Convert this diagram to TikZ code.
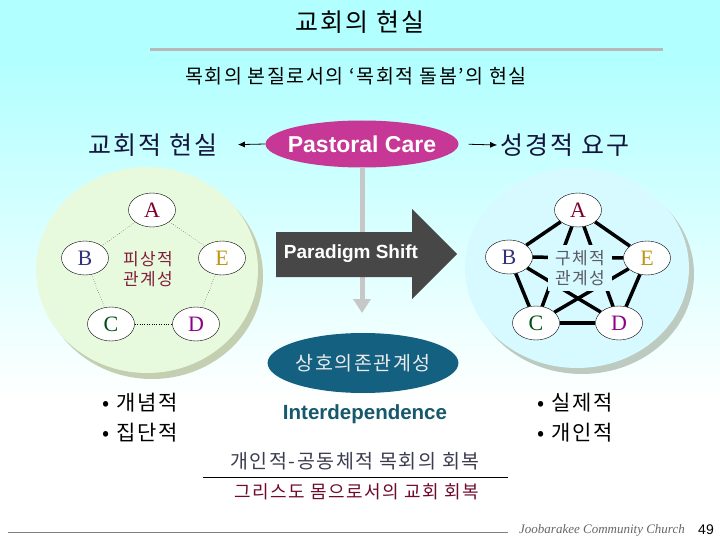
\documentclass[tikz,border=0pt]{standalone}
\usepackage{fontspec}
\setmainfont{Noto Sans CJK KR}[LetterSpace=8]
\newfontfamily\romanfont{Liberation Serif}
\newfontfamily\headfont{Liberation Sans}
\usepackage{tikz}
\usetikzlibrary{shapes.geometric,arrows.meta}

\definecolor{skycyan}{RGB}{178,255,255}
\definecolor{palegreen}{RGB}{232,250,222}
\definecolor{paleblue}{RGB}{214,250,255}
\definecolor{greenshadow}{RGB}{196,206,176}
\definecolor{blueshadow}{RGB}{188,202,192}
\definecolor{caremagenta}{RGB}{198,55,150}
\definecolor{shiftgray}{RGB}{71,71,71}
\definecolor{deepteal}{RGB}{20,96,128}
\definecolor{inkteal}{RGB}{22,88,108}
\definecolor{inknavy}{RGB}{20,20,60}
\definecolor{inkmaroon}{RGB}{128,30,60}
\definecolor{inkwine}{RGB}{112,10,45}
\definecolor{inkslate}{RGB}{60,60,80}
\definecolor{inkgray}{RGB}{90,90,100}
\definecolor{letterA}{RGB}{128,0,40}
\definecolor{letterB}{RGB}{50,50,120}
\definecolor{letterC}{RGB}{0,80,20}
\definecolor{letterD}{RGB}{140,0,140}
\definecolor{letterE}{RGB}{190,150,20}

\newcommand\fsz[2]{\fontsize{#1}{#2}\selectfont}

\begin{document}
\begin{tikzpicture}[x=1pt, y=-1pt,
        letter/.style={ellipse, draw, thin, fill=white, minimum width=47pt, minimum height=34pt, inner sep=0pt, font=\romanfont\fsz{22}{22}},
        loose/.style={dotted, thin},
        firm/.style={line width=3.5pt},
        heading/.style={text=inknavy, font=\fsz{25}{30}},
        bullets/.style={align=left, font=\fsz{21}{30}},
        pointer/.style={-{Latex[length=7pt,width=6pt]}, thick}]
        \useasboundingbox (0,0) rectangle (720,540);
        \fill[white] (0,0) rectangle (720,540);
        \fill[skycyan] (0,0) rectangle (720,60);
        \shade[top color=skycyan, bottom color=white] (0,60) rectangle (720,400);

        \node[font=\fsz{25}{30}] (title) at (360,22) {교회의 현실};
        \draw[line width=3pt, draw=black!28] (150,50) -- (663,50);
        \node[font=\fsz{19.5}{22}] (subtitle) at (356,76) {목회의 본질로서의 ‘목회적 돌봄’의 현실};

        \fill[greenshadow] (152,276) ellipse [x radius=111, y radius=103];
        \fill[palegreen] (147,270) ellipse [x radius=111, y radius=103];
        \fill[blueshadow] (582,274) ellipse [x radius=112, y radius=100];
        \fill[paleblue] (577,268) ellipse [x radius=112, y radius=100];

        \node[minimum width=193pt, minimum height=47pt, inner sep=0pt, text=white, font=\headfont\bfseries\fsz{23}{23},
            path picture={\fill[caremagenta] (path picture bounding box.center) ellipse [x radius=96.5, y radius=23.5];}] (care) at (362,144) {Pastoral Care};
        \node[heading] (church) at (153,145) {교회적 현실};
        \node[heading] (bible) at (565,145) {성경적 요구};
        \draw[pointer, shorten >=17pt] (care.west) -- (church.east);
        \draw[pointer, shorten <=10pt] (care.east) -- (bible.west);

        \coordinate (drop) at (362,313);
        \draw[line width=5pt, draw=black!22, -{Triangle[length=14pt,width=17pt]}] (care.south) -- (drop);
        \fill[shiftgray] (276,232) -- (412,232) -- (412,209) -- (457,254) -- (412,299) -- (412,277) -- (276,277) -- cycle;
        \node[text=white, font=\headfont\bfseries\fsz{19}{19}] (shift) at (351,254) {Paradigm Shift};

        \node[letter, text=letterA] (la) at (152,210) {A};
        \node[letter, text=letterB] (lb) at (85,258) {B};
        \node[letter, text=letterE] (le) at (222,258) {E};
        \node[letter, text=letterC] (lc) at (111,324) {C};
        \node[letter, text=letterD] (ld) at (196,324) {D};
        \draw[loose] (la) -- (lb);
        \draw[loose] (la) -- (le);
        \draw[loose] (lb) -- (lc);
        \draw[loose] (le) -- (ld);
        \draw[loose] (lc) -- (ld);
        \node[align=center, text=inkmaroon, font=\fsz{17}{20}] (lmid) at (148,269) {피상적\\관계성};

        \node[letter, text=letterA] (ra) at (578,210) {A};
        \node[letter, text=letterB] (rb) at (509,257) {B};
        \node[letter, text=letterE] (re) at (647,258) {E};
        \node[letter, text=letterC] (rc) at (536,323) {C};
        \node[letter, text=letterD] (rd) at (619,323) {D};
        \draw[firm] (ra) -- (rb);
        \draw[firm] (ra) -- (re);
        \draw[firm] (rb) -- (rc);
        \draw[firm] (re) -- (rd);
        \draw[firm] (rc) -- (rd);
        \draw[firm] (ra) -- (rc);
        \draw[firm] (ra) -- (rd);
        \draw[firm] (rb) -- (re);
        \draw[firm] (rb) -- (rd);
        \draw[firm] (re) -- (rc);
        \node[align=center, fill=paleblue, inner xsep=7pt, inner ysep=5pt, text=inkgray, font=\fsz{17}{20}] (rmid) at (580,268) {구체적\\관계성};

        \node[ellipse, fill=deepteal, inner sep=0pt, minimum width=185pt, minimum height=60pt, text=black!8, font=\fsz{19.5}{19.5}] (inter) at (363,363) {상호의존관계성};
        \node[text=inkteal, font=\headfont\bfseries\fsz{20.5}{20.5}] (interen) at (365,414) {Interdependence};
        \node[bullets] (leftlist) at (140,418) {• 개념적\\• 집단적};
        \node[bullets] (rightlist) at (575,418) {• 실제적\\• 개인적};

        \node[text=inkslate, font=\fsz{19.5}{19.5}] (pastoral) at (355,461) {개인적-공동체적 목회의 회복};
        \draw[thin] (203,477) -- (508,477);
        \node[text=inkwine, font=\fsz{18}{18}] (body) at (357,492) {그리스도 몸으로서의 교회 회복};
        \draw[draw=black!50, thick] (8,532) -- (508,532);
        \node[text=black!60, font=\romanfont\itshape\fsz{13}{13}] (footer) at (602,530) {Joobarakee Community Church};
        \node[font=\headfont\fsz{14}{14}] (page) at (706,530) {49};
    \end{tikzpicture}
\end{document}
